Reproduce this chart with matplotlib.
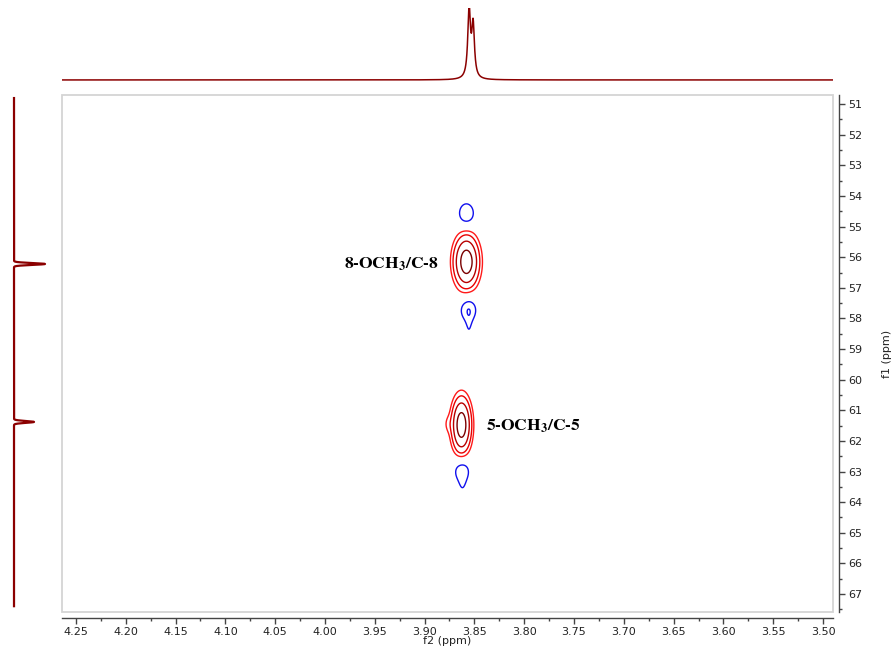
import numpy as np
import matplotlib.pyplot as plt
from matplotlib.patches import Rectangle
from matplotlib.ticker import MultipleLocator

# axis ranges (ppm)
f2_range = (4.264, 3.490)
f1_range = (50.70, 67.59)

# positive cross peaks (red)
pos_f2 = [3.858, 3.863, 3.877]
pos_f1 = [56.15, 61.48, 61.45]
pos_w2 = [0.0075, 0.0058, 0.003]
pos_w1 = [0.50, 0.53, 0.22]
pos_amp = [1.0, 1.0, 0.08]

# negative artefacts (blue)
neg_f2 = [3.858, 3.856, 3.8555, 3.8625, 3.862]
neg_f1 = [54.58, 57.72, 58.30, 62.98, 63.40]
neg_w2 = [0.0066, 0.0066, 0.0026, 0.0066, 0.0028]
neg_w1 = [0.30, 0.30, 0.38, 0.30, 0.30]
neg_amp = [-0.18, -0.187, -0.08, -0.17, -0.075]

pos_levels = [0.1, 0.2, 0.4, 0.75]
pos_colors = ['#ff1a1a', '#e80000', '#b80000', '#7a0000']
neg_levels = [-0.2, -0.1]

# 1D projections
top_peaks = [3.8553, 3.8513]
top_heights = [1.0, 0.76]
top_width = 0.0016
left_peaks = [56.22, 61.38]
left_heights = [1.0, 0.645]
left_width = 0.03

DR = '#8b0000'

fig = plt.figure(figsize=(8.96, 6.48), dpi=100)
W, H = 896, 648


def px_axes(x0, y0, x1, y1):
    return fig.add_axes([x0 / W, 1 - y1 / H, (x1 - x0) / W, (y1 - y0) / H])


ax = px_axes(62, 95, 833, 612)

# 2D surface from peak parameters
x = np.linspace(3.80, 3.93, 500)
y = np.linspace(53.0, 65.5, 500)
X, Y = np.meshgrid(x, y)
Z = np.zeros_like(X)
for c2, c1, w2, w1, a in zip(pos_f2 + neg_f2, pos_f1 + neg_f1, pos_w2 + neg_w2,
                             pos_w1 + neg_w1, pos_amp + neg_amp):
    Z += a * np.exp(-0.5 * ((X - c2) / w2) ** 2 - 0.5 * ((Y - c1) / w1) ** 2)

ax.contour(X, Y, Z, levels=pos_levels, colors=pos_colors, linewidths=1.0)
ax.contour(X, Y, Z, levels=neg_levels, colors='#1010ee', linewidths=1.0,
           linestyles='solid')

ax.set_xlim(*f2_range)
ax.set_ylim(f1_range[1], f1_range[0])

for s in ['top', 'left']:
    ax.spines[s].set_visible(False)
for s in ['bottom', 'right']:
    ax.spines[s].set_position(('outward', 4))
    ax.spines[s].set_color('#444444')
    ax.spines[s].set_linewidth(1.0)
ax.add_patch(Rectangle((0, 0), 1, 1, transform=ax.transAxes, fill=False,
                       ec='#d4d4d4', lw=1.3, clip_on=False))

ax.yaxis.tick_right()
ax.yaxis.set_label_position('right')
ax.xaxis.set_major_locator(MultipleLocator(0.05))
ax.xaxis.set_minor_locator(MultipleLocator(0.025))
ax.yaxis.set_major_locator(MultipleLocator(1))
ax.yaxis.set_minor_locator(MultipleLocator(0.5))
ax.xaxis.set_major_formatter(plt.FuncFormatter(lambda v, p: f'{v:.2f}'))
ax.yaxis.set_major_formatter(plt.FuncFormatter(lambda v, p: f'{v:.0f}'))
ax.tick_params(axis='both', which='major', direction='out', length=4,
               width=1, color='#444444', labelsize=8, labelcolor='#222222', pad=3)
ax.tick_params(axis='both', which='minor', direction='out', length=2,
               width=1, color='#444444')
ax.set_xlabel('f2 (ppm)', fontsize=8, color='#222222', labelpad=-1)
ax.set_ylabel('f1 (ppm)', fontsize=8, color='#222222', labelpad=14)

plt.rcParams['mathtext.fontset'] = 'stix'
ax.text(3.886, 56.22, r'8-OCH$_\mathbf{3}$/C-8', fontsize=12.5, fontweight='bold',
        family='STIXGeneral', ha='right', va='center')
ax.text(3.838, 61.52, r'5-OCH$_\mathbf{3}$/C-5', fontsize=12.5, fontweight='bold',
        family='STIXGeneral', ha='left', va='center')

# top projection
axt = px_axes(62, 8, 833, 82)
xt = np.linspace(f2_range[0], f2_range[1], 6000)
st = np.zeros_like(xt)
for c, h in zip(top_peaks, top_heights):
    st += h / (1 + ((xt - c) / top_width) ** 2)
axt.plot(xt, st, color=DR, lw=1.1)
axt.set_xlim(*f2_range)
axt.set_ylim(-0.03, 1.05)
axt.axis('off')

# left projection
axl = px_axes(0, 95, 60, 612)
yl = np.linspace(50.8, 67.4, 6000)
sl = np.zeros_like(yl)
for c, h in zip(left_peaks, left_heights):
    sl += h * np.exp(-0.5 * ((yl - c) / left_width) ** 2)
axl.plot(sl, yl, color=DR, lw=1.6)
axl.set_ylim(f1_range[1], f1_range[0])
axl.set_xlim(-0.452, 1.484)
axl.axis('off')

fig.savefig('out.png', dpi=100)
